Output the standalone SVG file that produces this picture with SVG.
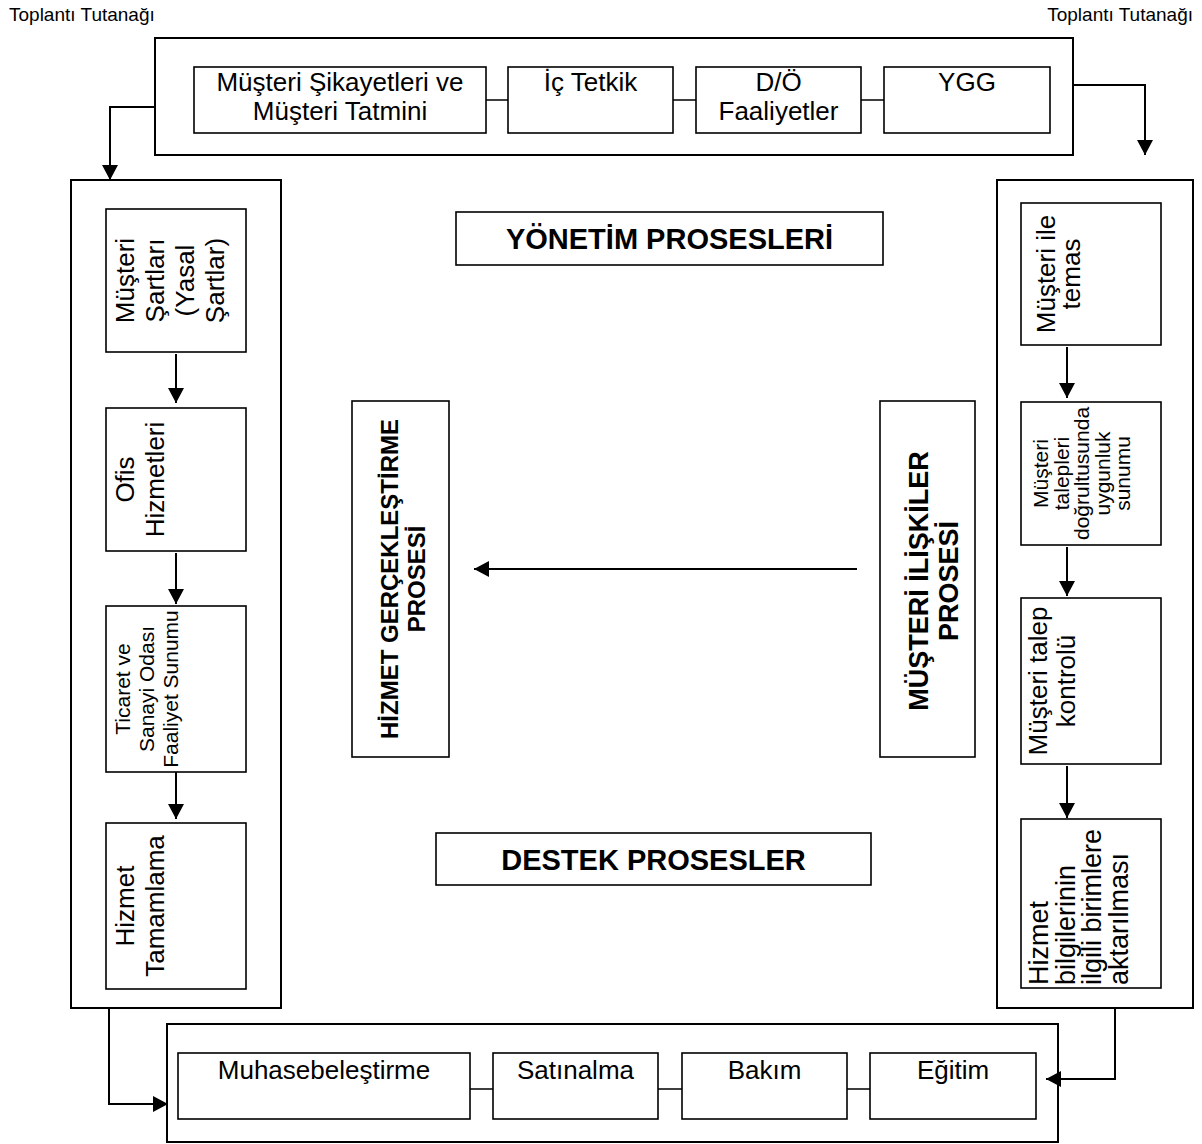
<svg xmlns="http://www.w3.org/2000/svg" width="1202" height="1144" viewBox="0 0 1202 1144">
<style>
text{font-family:"Liberation Sans",Arial,sans-serif;fill:#000}
.hdr{font-size:19px}
.t26{font-size:26px}
.t21{font-size:21px}
.t27{font-size:27px}
.b29{font-size:29px;font-weight:bold}
.b24{font-size:24px;font-weight:bold}
.b27{font-size:27px;font-weight:bold}
.outer{fill:#fff;stroke:#000;stroke-width:2}
.box{fill:#fff;stroke:#000;stroke-width:1.6}
.link{fill:none;stroke:#000;stroke-width:1.5}
.arrow{fill:none;stroke:#000;stroke-width:2;marker-end:url(#ah)}
</style>
<defs>
<marker id="ah" markerUnits="userSpaceOnUse" markerWidth="16" markerHeight="16" refX="15" refY="8" orient="auto">
<path d="M0,0 L15,8 L0,16 Z" fill="#000"/>
</marker>
</defs>
<rect width="1202" height="1144" fill="#fff"/>
<text class="hdr" x="9" y="21">Toplantı Tutanağı</text>
<text class="hdr" x="1193" y="21" text-anchor="end">Toplantı Tutanağı</text>

<g id="yonetim-group">
<rect class="outer" x="155" y="38" width="918" height="117"/>
</g>
<g id="musteri-sikayetleri">
<rect class="box" x="194" y="67" width="292" height="66"/>
<text class="t26" text-anchor="middle"><tspan x="340" y="91">Müşteri Şikayetleri ve</tspan><tspan x="340" y="120">Müşteri Tatmini</tspan></text>
</g>
<g id="ic-tetkik">
<rect class="box" x="508" y="67" width="165" height="66"/>
<text class="t26" x="590.5" y="91" text-anchor="middle">İç Tetkik</text>
</g>
<g id="do-faaliyetler">
<rect class="box" x="696" y="67" width="165" height="66"/>
<text class="t26" text-anchor="middle"><tspan x="778.5" y="91">D/Ö</tspan><tspan x="778.5" y="120">Faaliyetler</tspan></text>
</g>
<g id="ygg">
<rect class="box" x="884" y="67" width="166" height="66"/>
<text class="t26" x="967" y="91" text-anchor="middle">YGG</text>
</g>

<g id="left-column">
<rect class="outer" x="71" y="180" width="210" height="828"/>
</g>
<g id="musteri-sartlari">
<rect class="box" x="106" y="209" width="140" height="143"/>
<text class="t26" text-anchor="middle" transform="translate(134,280.5) rotate(-90)"><tspan x="0" y="0">Müşteri</tspan><tspan x="0" y="30">Şartları</tspan><tspan x="0" y="60">(Yasal</tspan><tspan x="0" y="90">Şartlar)</tspan></text>
</g>
<g id="ofis-hizmetleri">
<rect class="box" x="106" y="408" width="140" height="143"/>
<text class="t26" text-anchor="middle" transform="translate(134,479.5) rotate(-90)"><tspan x="0" y="0">Ofis</tspan><tspan x="0" y="30">Hizmetleri</tspan></text>
</g>
<g id="ticaret-sanayi">
<rect class="box" x="106" y="606" width="140" height="166"/>
<text class="t21" text-anchor="middle" transform="translate(130,689) rotate(-90)"><tspan x="0" y="0">Ticaret ve</tspan><tspan x="0" y="24">Sanayi Odası</tspan><tspan x="0" y="48">Faaliyet Sunumu</tspan></text>
</g>
<g id="hizmet-tamamlama">
<rect class="box" x="106" y="823" width="140" height="166"/>
<text class="t26" text-anchor="middle" transform="translate(134,906) rotate(-90)"><tspan x="0" y="0">Hizmet</tspan><tspan x="0" y="30">Tamamlama</tspan></text>
</g>

<g id="right-column">
<rect class="outer" x="997" y="180" width="196" height="828"/>
</g>
<g id="musteri-ile-temas">
<rect class="box" x="1021" y="203" width="140" height="142"/>
<text class="t26" text-anchor="middle" transform="translate(1055,274) rotate(-90)"><tspan x="0" y="0">Müşteri ile</tspan><tspan x="0" y="25">temas</tspan></text>
</g>
<g id="uygunluk-sunumu">
<rect class="box" x="1021" y="402" width="140" height="143"/>
<text class="t21" text-anchor="middle" transform="translate(1048,473.5) rotate(-90)"><tspan x="0" y="0">Müşteri</tspan><tspan x="0" y="20.5">talepleri</tspan><tspan x="0" y="41">doğrultusunda</tspan><tspan x="0" y="61.5">uygunluk</tspan><tspan x="0" y="82">sunumu</tspan></text>
</g>
<g id="talep-kontrolu">
<rect class="box" x="1021" y="598" width="140" height="166"/>
<text class="t26" text-anchor="middle" transform="translate(1047,681) rotate(-90)"><tspan x="0" y="0">Müşteri talep</tspan><tspan x="0" y="28">kontrolü</tspan></text>
</g>
<g id="bilgi-aktarimi">
<rect class="box" x="1021" y="819" width="140" height="169"/>
<text class="t27" transform="translate(1048,985) rotate(-90)"><tspan x="0" y="0">Hizmet</tspan><tspan x="0" y="26.7">bilgilerinin</tspan><tspan x="0" y="53.4">ilgili birimlere</tspan><tspan x="0" y="80">aktarılması</tspan></text>
</g>

<g id="yonetim-prosesleri">
<rect class="box" x="456" y="212" width="427" height="53"/>
<text class="b29" x="669.5" y="249" text-anchor="middle">YÖNETİM PROSESLERİ</text>
</g>
<g id="hizmet-gerceklestirme">
<rect class="box" x="352" y="401" width="97" height="356"/>
<text class="b24" text-anchor="middle" transform="translate(398,579) rotate(-90)"><tspan x="0" y="0">HİZMET GERÇEKLEŞTİRME</tspan><tspan x="0" y="27">PROSESİ</tspan></text>
</g>
<g id="musteri-iliskiler">
<rect class="box" x="880" y="401" width="95" height="356"/>
<text class="b27" text-anchor="middle" transform="translate(928,581) rotate(-90)"><tspan x="0" y="0">MÜŞTERİ İLİŞKİLER</tspan><tspan x="0" y="30">PROSESİ</tspan></text>
</g>
<g id="destek-prosesler">
<rect class="box" x="436" y="833" width="435" height="52"/>
<text class="b29" x="653.5" y="870" text-anchor="middle">DESTEK PROSESLER</text>
</g>

<g id="destek-group">
<rect class="outer" x="167" y="1024" width="891" height="118"/>
</g>
<g id="muhasebe">
<rect class="box" x="178" y="1053" width="292" height="66"/>
<text class="t26" x="324" y="1079" text-anchor="middle">Muhasebeleştirme</text>
</g>
<g id="satinalma">
<rect class="box" x="493" y="1053" width="165" height="66"/>
<text class="t26" x="575.5" y="1079" text-anchor="middle">Satınalma</text>
</g>
<g id="bakim">
<rect class="box" x="682" y="1053" width="165" height="66"/>
<text class="t26" x="764.5" y="1079" text-anchor="middle">Bakım</text>
</g>
<g id="egitim">
<rect class="box" x="870" y="1053" width="166" height="66"/>
<text class="t26" x="953" y="1079" text-anchor="middle">Eğitim</text>
</g>

<g id="connectors">
<path class="link" d="M486,100 H508 M673,100 H696 M861,100 H884"/>
<path class="link" d="M470,1089 H493 M658,1089 H682 M847,1089 H870"/>
<path class="arrow" d="M155,107 H110 V180"/>
<path class="arrow" d="M1073,85 H1145 V155"/>
<path class="arrow" d="M109,1008 V1104 H168"/>
<path class="arrow" d="M1115,1008 V1079 H1046"/>
<path class="arrow" d="M857,569 H474"/>
<path class="arrow" d="M176,354 V403"/>
<path class="arrow" d="M176,553 V604"/>
<path class="arrow" d="M176,772 V819"/>
<path class="arrow" d="M1067,347 V398"/>
<path class="arrow" d="M1067,547 V596"/>
<path class="arrow" d="M1067,766 V818"/>
</g>
</svg>
